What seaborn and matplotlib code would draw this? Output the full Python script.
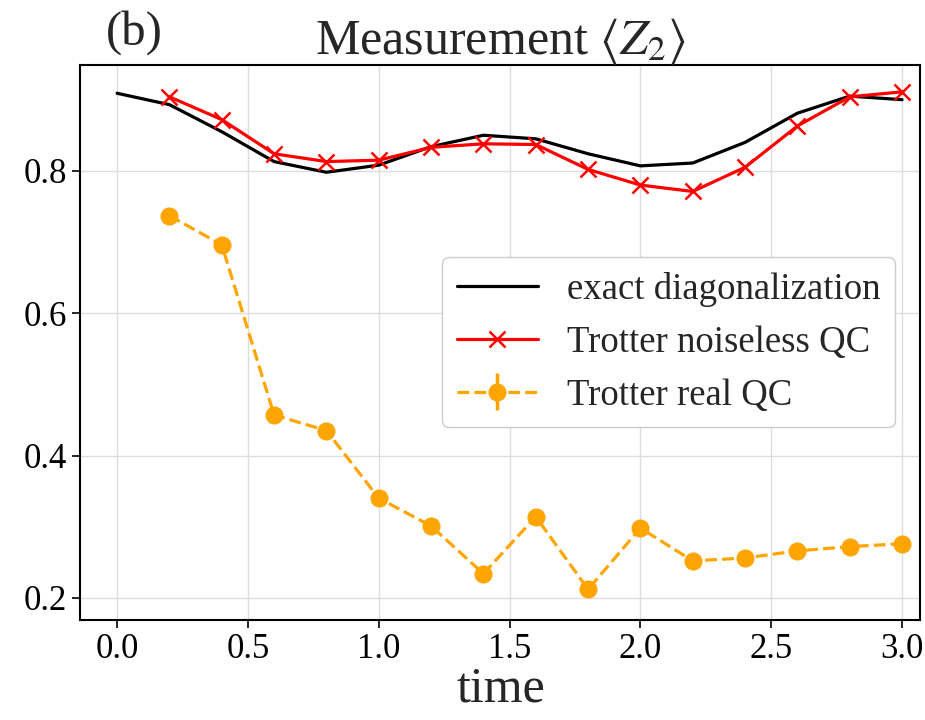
"""Measurement <Z_2>: exact diagonalization vs Trotter on noiseless and real QC."""

import matplotlib

matplotlib.use("Agg")
import matplotlib.pyplot as plt
import pandas as pd
import seaborn as sns

# Waktu evolusi dan nilai ekspektasi yang dibaca dari gambar.
time_exact = [0.0, 0.2, 0.4, 0.6, 0.8, 1.0, 1.2, 1.4, 1.6, 1.8, 2.0, 2.2, 2.4, 2.6, 2.8, 3.0]
z2_exact = [0.909, 0.893, 0.855, 0.813, 0.798, 0.808, 0.834, 0.850, 0.845, 0.824,
            0.807, 0.811, 0.840, 0.881, 0.905, 0.900]

time_trotter = [0.2, 0.4, 0.6, 0.8, 1.0, 1.2, 1.4, 1.6, 1.8, 2.0, 2.2, 2.4, 2.6, 2.8, 3.0]
z2_noiseless = [0.904, 0.872, 0.824, 0.813, 0.815, 0.833, 0.838, 0.837, 0.802,
                0.780, 0.771, 0.805, 0.863, 0.904, 0.911]
z2_real = [0.737, 0.696, 0.457, 0.435, 0.340, 0.301, 0.234, 0.314, 0.212,
           0.298, 0.252, 0.256, 0.266, 0.272, 0.276]
z2_real_err = [0.008] * len(z2_real)

sns.set_theme(style="whitegrid")
plt.rcParams["font.family"] = ["Liberation Serif", "DejaVu Serif"]
plt.rcParams["mathtext.fontset"] = "stix"

fig = plt.figure(figsize=(9.25, 7.2), dpi=100)
ax = fig.add_axes([0.087, 0.139, 0.908, 0.771])

exact = pd.DataFrame({"time": time_exact, "z2": z2_exact})
noiseless = pd.DataFrame({"time": time_trotter, "z2": z2_noiseless})

sns.lineplot(data=exact, x="time", y="z2", ax=ax, color="black", linewidth=2.3,
             label="exact diagonalization")
sns.lineplot(data=noiseless, x="time", y="z2", ax=ax, color="red", linewidth=2.3,
             marker="x", markersize=12, markeredgewidth=1.8, markeredgecolor="red",
             label="Trotter noiseless QC")
ax.errorbar(time_trotter, z2_real, yerr=z2_real_err, color="orange", linestyle="--",
            linewidth=2.3, marker="o", markersize=12, elinewidth=2.5,
            label="Trotter real QC")

ax.set_xlim(-0.14, 3.07)
ax.set_ylim(0.169, 0.949)
ax.set_xticks([0.0, 0.5, 1.0, 1.5, 2.0, 2.5, 3.0])
ax.set_yticks([0.2, 0.4, 0.6, 0.8])
ax.tick_params(axis="both", labelsize=25, length=6, width=1.2, colors="black",
               bottom=True, left=True, direction="out")
ax.set_xlabel("time", fontsize=36, labelpad=0)
ax.set_ylabel("")
ax.set_title(r"Measurement $\langle Z_2\rangle$", fontsize=36, pad=8)
ax.text(0.03, 1.036, "(b)", transform=ax.transAxes, fontsize=35, va="baseline")

ax.grid(color="#dddddd", linewidth=1)
for spine in ax.spines.values():
    spine.set_edgecolor("black")
    spine.set_linewidth(1.5)

ax.legend(loc="center right", bbox_to_anchor=(0.97, 0.5), borderaxespad=0,
          fontsize=26.5, frameon=True, edgecolor="#cccccc", framealpha=1,
          handlelength=2.2)

fig.savefig("out.png", dpi=100)
